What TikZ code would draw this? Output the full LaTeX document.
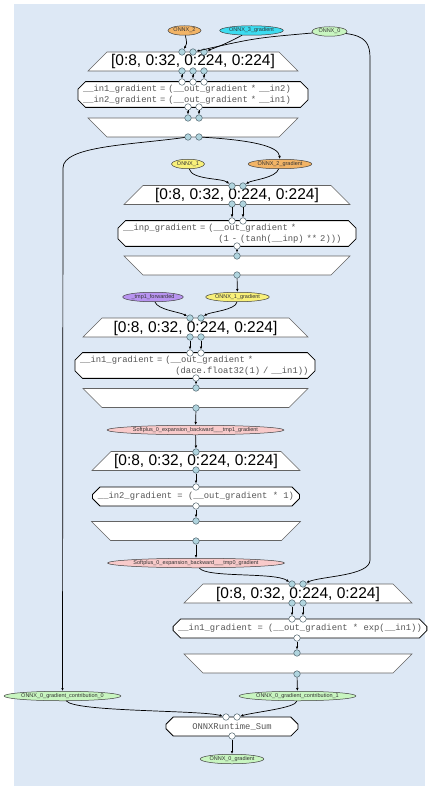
\documentclass[tikz,border=0pt]{standalone}
\usepackage{fontspec}
\setmainfont{Liberation Sans}
\newfontfamily\codefont{Liberation Mono}
\usepackage{tikz}
\usetikzlibrary{arrows.meta,shapes.geometric,shapes.misc}
\usepackage{xcolor}
\definecolor{SDFGbg}{RGB}{221,232,245}
\definecolor{ConnFill}{RGB}{176,212,222}
\definecolor{ConnLine}{RGB}{80,100,110}
\definecolor{MapLine}{RGB}{100,100,100}
\definecolor{CodeGray}{RGB}{85,85,85}
\definecolor{ArrGreen}{RGB}{200,245,192}
\definecolor{ArrOrange}{RGB}{242,180,102}
\definecolor{ArrCyan}{RGB}{60,220,240}
\definecolor{ArrYellow}{RGB}{248,240,122}
\definecolor{ArrPurple}{RGB}{184,148,240}
\definecolor{ArrPink}{RGB}{248,202,202}

\begin{document}
\begin{tikzpicture}[x=1pt, y=-1pt,
  mentry/.style={trapezium, trapezium left angle=45, trapezium right angle=45, trapezium stretches body, draw=MapLine, fill=white, line width=0.6pt, text height=14pt, text depth=5pt, minimum width=#1, inner sep=0pt, font=\fontsize{15.5}{16}\selectfont},
  mexit/.style={mentry=#1, trapezium left angle=135, trapezium right angle=135},
  tasklet/.style={chamfered rectangle, chamfered rectangle xsep=4pt, draw=black, fill=white, line width=0.8pt, inner xsep=1pt, inner ysep=0pt, text=CodeGray, font=\codefont\fontsize{8.83}{10.5}\selectfont},
  mconn/.style={circle, draw=ConnLine, fill=ConnFill, line width=0.5pt, minimum size=6.5pt, inner sep=0pt},
  tconn/.style={mconn, fill=white},
  data/.style={ellipse, draw=black!75, line width=0.5pt, minimum height=9.5pt, minimum width=#1, inner sep=0pt, text=black!80, font=\fontsize{5.5}{6}\selectfont},
  edge/.style={-{Latex[length=3pt,width=2.6pt]}, line width=0.7pt}]
\useasboundingbox (0,0) rectangle (436,794);
\fill[SDFGbg] (14,4) rectangle (425,786);

% access nodes
\node[data=33pt, fill=ArrOrange] (onnx2) at (184.5,30.5) {ONNX\_2};
\node[data=57pt, fill=ArrCyan] (onnx3g) at (251.5,30.5) {ONNX\_3\_gradient};
\node[data=35pt, fill=ArrGreen] (onnx0) at (329.5,31.5) {ONNX\_0};
\node[data=33pt, fill=ArrYellow] (onnx1) at (188,164) {ONNX\_1};
\node[data=56pt, fill=ArrOrange] (onnx2g) at (280,164) {ONNX\_2\_gradient};
\node[data=58pt, fill=ArrPurple] (tmpfw) at (153,297) {\_tmp1\_forwarded};
\node[data=57pt, fill=ArrYellow] (onnx1g) at (237.5,297) {ONNX\_1\_gradient};
\node[data=136pt, fill=ArrPink] (sp1) at (195.5,430) {Softplus\_0\_expansion\_backward\_\_\_tmp1\_gradient};
\node[data=136pt, fill=ArrPink] (sp0) at (196,563) {Softplus\_0\_expansion\_backward\_\_\_tmp0\_gradient};
\node[data=93pt, fill=ArrGreen] (contrib0) at (62.5,696) {ONNX\_0\_gradient\_contribution\_0};
\node[data=95pt, fill=ArrGreen] (contrib1) at (297.5,696) {ONNX\_0\_gradient\_contribution\_1};
\node[data=57pt, fill=ArrGreen] (onnx0g) at (232,759) {ONNX\_0\_gradient};

% mul backward
\node[mentry=210pt] (me1) at (193,61.5) {[0:8, 0:32, 0:224, 0:224]};
\node[tasklet, minimum width=222pt, minimum height=25pt, text width=220pt, align=left] (t1) at (193,94.5)
  {\_\_in1\_gradient = (\_\_out\_gradient * \_\_in2)\\\_\_in2\_gradient = (\_\_out\_gradient * \_\_in1)};
\node[mexit=210pt] (mx1) at (193,127.5) {};
\foreach \n/\x in {a/182,b/193,c/204} {
  \node[mconn] (me1in\n) at (\x,52) {};
  \node[mconn] (me1out\n) at (\x,71) {};
  \node[tconn] (t1in\n) at (\x,82) {};
  \draw[edge] (me1out\n) -- (t1in\n);
}
\foreach \n/\x in {a/188,b/199} {
  \node[tconn] (t1out\n) at (\x,107) {};
  \node[mconn] (mx1in\n) at (\x,118) {};
  \node[mconn] (mx1out\n) at (\x,137) {};
  \draw[edge] (t1out\n) -- (mx1in\n);
}

% tanh backward
\node[mentry=226pt] (me2) at (237,195) {[0:8, 0:32, 0:224, 0:224]};
\node[tasklet, minimum width=230pt, minimum height=25pt, text width=228pt, align=left] (t2) at (237,233.5)
  {\_\_inp\_gradient = (\_\_out\_gradient *\\\hspace*{10.8em}(1 - (tanh(\_\_inp) ** 2)))};
\node[mexit=226pt] (mx2) at (237,265.5) {};
\foreach \n/\x in {a/232,b/243} {
  \node[mconn] (me2in\n) at (\x,186) {};
  \node[mconn] (me2out\n) at (\x,204) {};
  \node[tconn] (t2in\n) at (\x,221) {};
  \draw[edge] (me2out\n) -- (t2in\n);
}
\node[tconn] (t2out) at (237,246) {};
\node[mconn] (mx2in) at (237,256) {};
\node[mconn] (mx2out) at (237,275) {};
\draw[edge] (t2out) -- (mx2in);

% reciprocal backward
\node[mentry=225pt] (me3) at (195.5,327.5) {[0:8, 0:32, 0:224, 0:224]};
\node[tasklet, minimum width=232pt, minimum height=25pt, text width=230pt, align=left] (t3) at (195,365.5)
  {\_\_in1\_gradient = (\_\_out\_gradient *\\\hspace*{10.8em}(dace.float32(1) / \_\_in1))};
\node[mexit=225pt] (mx3) at (195.5,398) {};
\foreach \n/\x in {a/190,b/201} {
  \node[mconn] (me3in\n) at (\x,318) {};
  \node[mconn] (me3out\n) at (\x,337) {};
  \node[tconn] (t3in\n) at (\x,353) {};
  \draw[edge] (me3out\n) -- (t3in\n);
}
\node[tconn] (t3out) at (196,378) {};
\node[mconn] (mx3in) at (196,388) {};
\node[mconn] (mx3out) at (196,408) {};
\draw[edge] (t3out) -- (mx3in);

% add backward
\node[mentry=208pt] (me4) at (196,461) {[0:8, 0:32, 0:224, 0:224]};
\node[tasklet, minimum width=207pt, minimum height=19pt] (t4) at (196,496.5)
  {\_\_in2\_gradient = (\_\_out\_gradient * 1)};
\node[mexit=209pt] (mx4) at (196,531) {};
\node[mconn] (me4in) at (196,452) {};
\node[mconn] (me4out) at (196,470) {};
\node[tconn] (t4in) at (196,487) {};
\node[tconn] (t4out) at (196,506) {};
\node[mconn] (mx4in) at (196,521) {};
\node[mconn] (mx4out) at (196,541) {};
\draw[edge] (me4out) -- (t4in);
\draw[edge] (t4out) -- (mx4in);

% exp backward
\node[mentry=228pt] (me5) at (298,593.5) {[0:8, 0:32, 0:224, 0:224]};
\node[tasklet, minimum width=246pt, minimum height=19pt] (t5) at (300,628.5)
  {\_\_in1\_gradient = (\_\_out\_gradient * exp(\_\_in1))};
\node[mexit=228pt] (mx5) at (298,663.5) {};
\foreach \n/\x in {a/292,b/303} {
  \node[mconn] (me5in\n) at (\x,584) {};
  \node[mconn] (me5out\n) at (\x,603) {};
  \node[tconn] (t5in\n) at (\x,619) {};
  \draw[edge] (me5out\n) -- (t5in\n);
}
\node[tconn] (t5out) at (297,638) {};
\node[mconn] (mx5in) at (297,653) {};
\node[mconn] (mx5out) at (297,674) {};
\draw[edge] (t5out) -- (mx5in);

% sum of contributions
\node[tasklet, minimum width=132pt, minimum height=19pt] (sum) at (232,726.5) {ONNXRuntime\_Sum};
\node[tconn] (sumina) at (226,717) {};
\node[tconn] (suminb) at (237,717) {};
\node[tconn] (sumout) at (232,736) {};

% memlets
\draw[edge] (onnx2) .. controls (187,44) .. (me1ina);
\draw[edge] (onnx0) .. controls (255,38) .. (me1inb);
\draw[edge] (onnx3g) .. controls (225,44) .. (me1inc);
\draw[edge] (onnx0) .. controls (366,36) and (370,44) .. (370,58) -- (370,560) .. controls (370,576) and (322,576) .. (me5inb);
\draw[edge] (mx1outa) .. controls (130,145) and (63,146) .. (63,168) -- (contrib0);
\draw[edge] (mx1outb) .. controls (250,140) and (279,146) .. (onnx2g);
\draw[edge] (onnx1) .. controls (192,180) and (222,178) .. (me2ina);
\draw[edge] (onnx2g) .. controls (276,178) and (252,180) .. (me2inb);
\draw[edge] (mx2out) -- (onnx1g);
\draw[edge] (tmpfw) .. controls (158,310) and (180,312) .. (me3ina);
\draw[edge] (onnx1g) .. controls (236,310) and (210,312) .. (me3inb);
\draw[edge] (mx3out) -- (sp1);
\draw[edge] (sp1) -- (me4in);
\draw[edge] (mx4out) -- (sp0);
\draw[edge] (sp0) .. controls (206,578) and (275,572) .. (me5ina);
\draw[edge] (mx5out) -- (contrib1);
\draw[edge] (contrib0) .. controls (75,712) and (200,710) .. (sumina);
\draw[edge] (contrib1) .. controls (296,708) and (255,712) .. (suminb);
\draw[edge] (sumout) -- (onnx0g);
\end{tikzpicture}
\end{document}
